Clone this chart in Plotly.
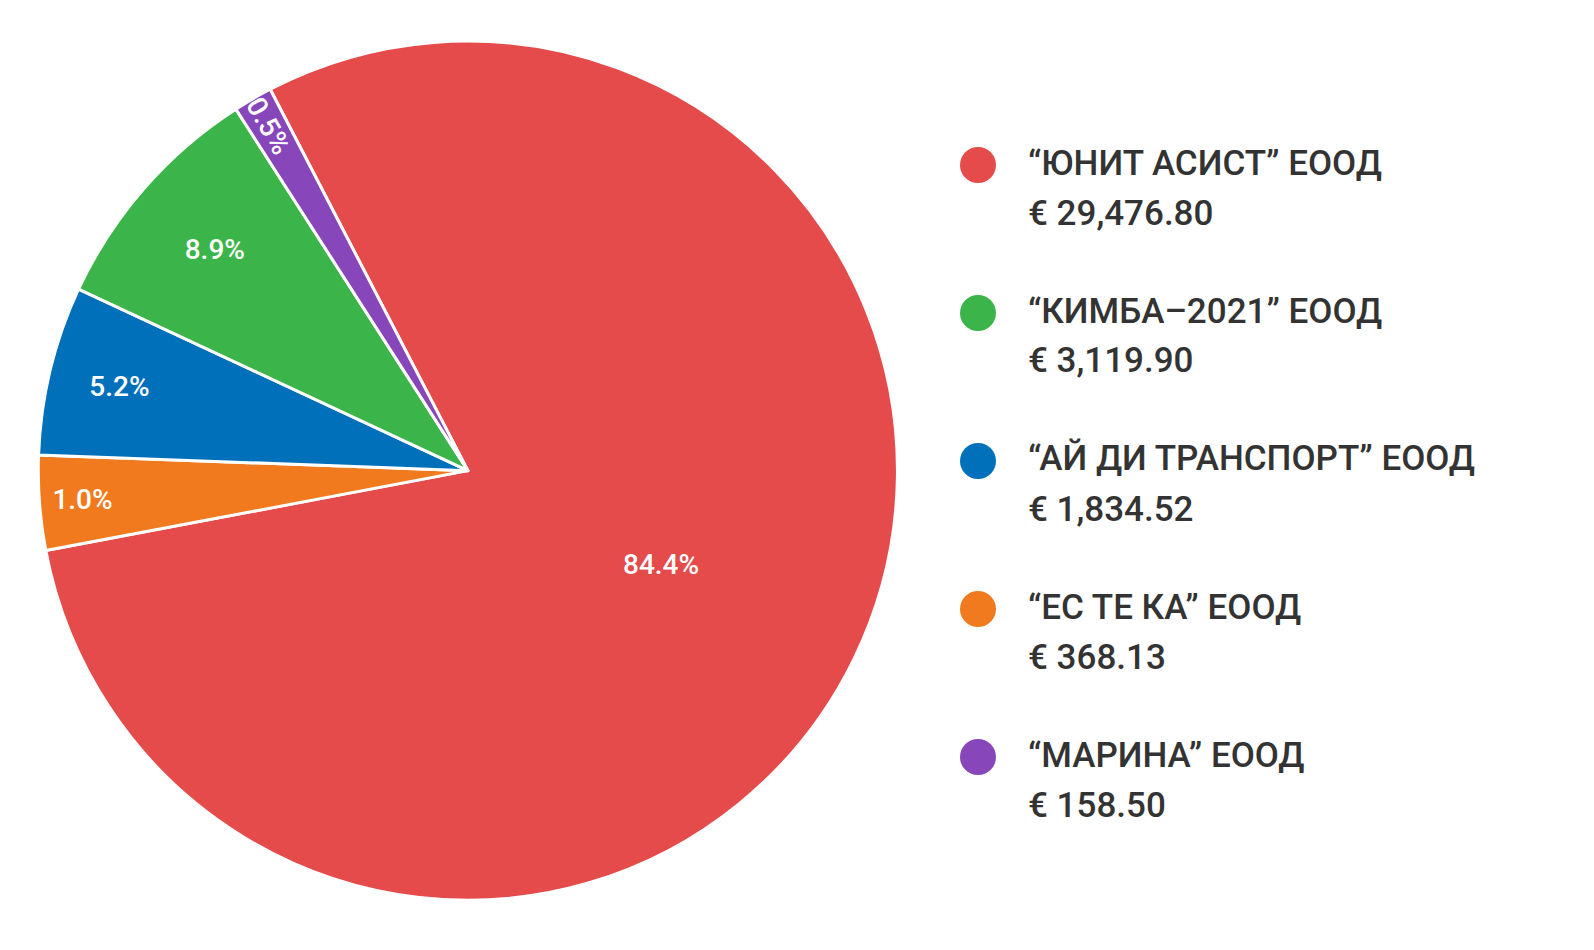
import plotly.graph_objects as go

names = ["“ЮНИТ АСИСТ” ЕООД", "“ЕС ТЕ КА” ЕООД", "“АЙ ДИ ТРАНСПОРТ” ЕООД", "“КИМБА–2021” ЕООД", "“МАРИНА” ЕООД"]
amounts = [29476.80, 368.13, 1834.52, 3119.90, 158.50]
# slice shares as drawn in the reference (small slices drawn with a minimum size)
slice_shares = [79.6, 3.56, 6.36, 8.97, 1.47]
pct_labels = ["84.4%", "1.0%", "5.2%", "8.9%", "0.5%"]
colors = ["#E54B4B", "#F07A1D", "#0070BA", "#3BB54A", "#8746BA"]
legend_order = [0, 3, 2, 1, 4]

fig = go.Figure(go.Pie(
    labels=names, values=slice_shares, text=pct_labels, textinfo="text",
    customdata=amounts, hovertemplate="%{label}<br>€ %{customdata:,.2f}<extra></extra>",
    sort=False, direction="clockwise", rotation=332.6,
    marker=dict(colors=colors, line=dict(color="white", width=3)),
    textfont=dict(family="Roboto", size=28, color="white", weight=500),
    insidetextorientation="auto", textposition="inside",
    domain=dict(x=[0.019, 0.558], y=[0.06, 0.966]),
    showlegend=False,
))

shapes, annotations = [], []
for k, i in enumerate(legend_order):
    yc = 157 + k * 148
    shapes.append(dict(type="circle", xref="paper", yref="paper",
                       x0=952/1594, x1=988/1594, y0=1-(yc+18)/950, y1=1-(yc-18)/950,
                       fillcolor=colors[i], line=dict(width=0)))
    annotations.append(dict(xref="paper", yref="paper", x=1018/1594, y=1-(yc-2)/950,
                            text=names[i], showarrow=False, xanchor="left", yanchor="middle",
                            font=dict(family="Roboto", size=35, color="#333333", weight=500)))
    annotations.append(dict(xref="paper", yref="paper", x=1018/1594, y=1-(yc+48)/950,
                            text=f"€ {amounts[i]:,.2f}", showarrow=False, xanchor="left", yanchor="middle",
                            font=dict(family="Roboto", size=35, color="#333333", weight=500)))

fig.update_layout(width=1594, height=950, margin=dict(l=0, r=0, t=0, b=0),
                  paper_bgcolor="white", plot_bgcolor="white",
                  shapes=shapes, annotations=annotations)
fig.write_html("out.html")
